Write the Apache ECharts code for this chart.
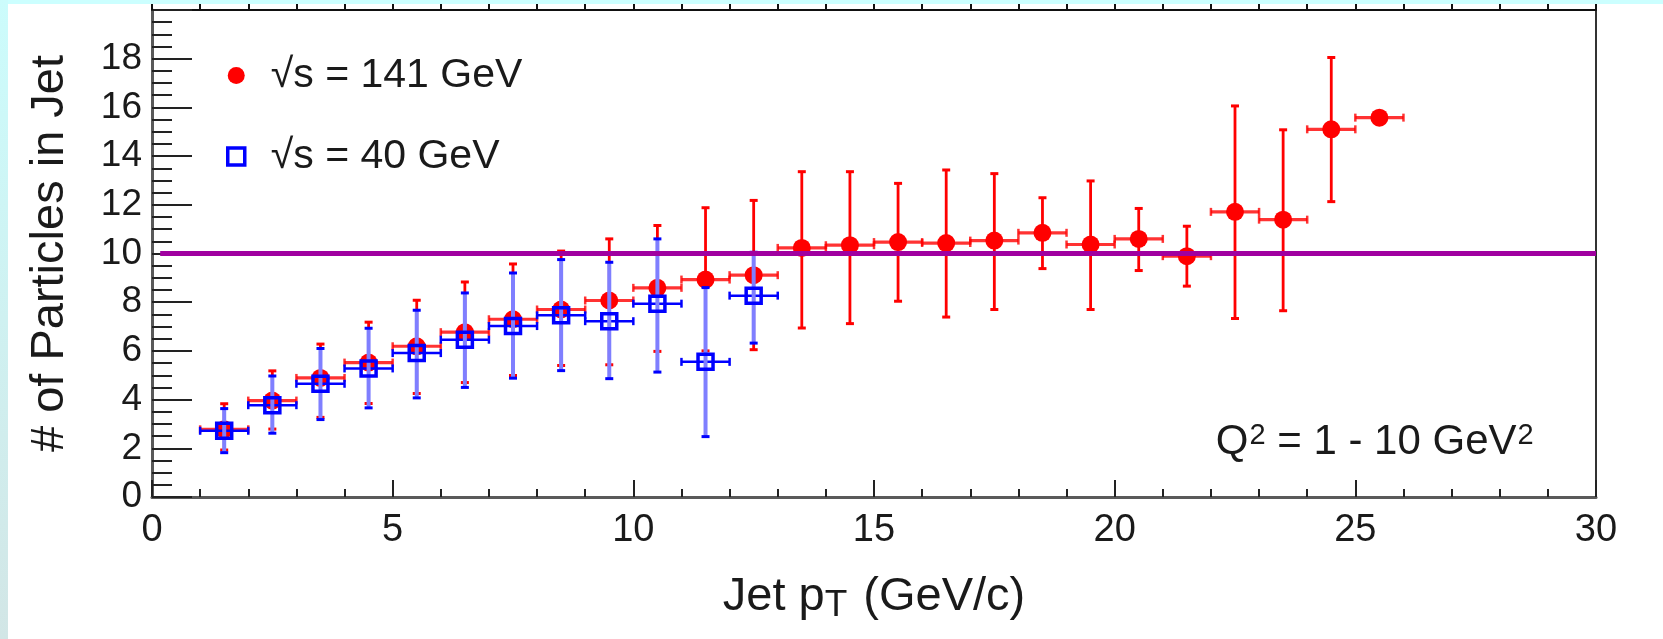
<!DOCTYPE html>
<html><head><meta charset="utf-8">
<script src="https://cdn.jsdelivr.net/npm/echarts/dist/echarts.min.js"></script>
<style>html,body{margin:0;padding:0;background:#fff;}#c{width:1663px;height:639px;}</style>
</head><body><div id="c"></div>
<script>
// ---- data ----
const redX = [1.5,2.5,3.5,4.5,5.5,6.5,7.5,8.5,9.5,10.5,11.5,12.5,13.5,14.5,15.5,16.5,17.5,18.5,19.5,20.5,21.5,22.5,23.5,24.5,25.5];
const redY = [2.78,3.96,4.89,5.52,6.19,6.77,7.30,7.70,8.07,8.59,8.93,9.11,10.23,10.34,10.47,10.43,10.53,10.85,10.37,10.60,9.89,11.71,11.39,15.10,15.58];
const redHigh = [3.83,5.18,6.28,7.18,8.08,8.83,9.57,10.10,10.60,11.15,11.88,12.18,13.36,13.36,12.88,13.43,13.28,12.29,12.98,11.85,11.12,16.06,15.08,18.05,15.58];
const redLow = [1.93,2.79,3.27,3.84,4.25,4.70,4.99,5.40,5.43,5.98,6.00,6.05,6.94,7.12,8.04,7.39,7.70,9.38,7.70,9.30,8.66,7.33,7.65,12.13,15.58];
const blueX = [1.5,2.5,3.5,4.5,5.5,6.5,7.5,8.5,9.5,10.5,11.5,12.5];
const blueY = [2.72,3.77,4.65,5.28,5.91,6.46,7.02,7.46,7.22,7.94,5.55,8.27];
const blueHigh = [3.63,4.97,6.10,6.93,7.67,8.38,9.20,9.75,9.64,10.60,8.60,10.05];
const blueLow = [1.82,2.62,3.18,3.66,4.07,4.50,4.88,5.19,4.86,5.13,2.48,6.32];
const binHalfWidth = 0.5;
const refLevel = 10;
const xTicks = [0,5,10,15,20,25,30];
const yTicks = [0,2,4,6,8,10,12,14,16,18];
const redName = '\u221As = 141 GeV';
const blueName = '\u221As = 40 GeV';

const FONT = '"Liberation Sans", Arial, Helvetica, sans-serif';
const chart = echarts.init(document.getElementById('c'), null, {renderer: 'canvas'});

function errData(xs, ys, lo, hi) {
  return xs.map((x, i) => [x, ys[i], lo[i], hi[i], binHalfWidth]);
}
function makeErr(vColor, vWidth, capColor, hColor, hWidth) {
  return function (params, api) {
    const x = api.value(0), y = api.value(1), lo = api.value(2), hi = api.value(3), hw = api.value(4);
    const pLo = api.coord([x, lo]), pHi = api.coord([x, hi]);
    const pL = api.coord([x - hw, y]), pR = api.coord([x + hw, y]);
    const cap = 4;
    const ch = [];
    const seg = (x1, y1, x2, y2, c, w) => ch.push({type: 'line', shape: {x1, y1, x2, y2}, style: {stroke: c, lineWidth: w}});
    seg(pL[0], pL[1], pR[0], pR[1], hColor, hWidth);
    seg(pL[0], pL[1] - cap, pL[0], pL[1] + cap, hColor, 2.5);
    seg(pR[0], pR[1] - cap, pR[0], pR[1] + cap, hColor, 2.5);
    if (hi > lo) {
      seg(pLo[0], pLo[1], pHi[0], pHi[1], vColor, vWidth);
      seg(pHi[0] - cap, pHi[1], pHi[0] + cap, pHi[1], capColor, 3);
      seg(pLo[0] - cap, pLo[1], pLo[0] + cap, pLo[1], capColor, 3);
    }
    return {type: 'group', children: ch};
  };
}

const strips = [
  {type: 'rect', left: 0, top: 0, shape: {width: 1663, height: 4}, style: {fill: '#ccffff'}, z: 100},
  {type: 'rect', left: 0, top: 0, shape: {width: 8, height: 639},
    style: {fill: new echarts.graphic.LinearGradient(0, 0, 0, 1, [{offset: 0, color: '#ccfcfc'}, {offset: 1, color: '#d2e6e6'}])}, z: 100}
];

const option = {
  animation: false,
  backgroundColor: '#ffffff',
  textStyle: {fontFamily: FONT},
  grid: {left: 152, right: 67, top: 10, bottom: 142, containLabel: false, outerBoundsMode: 'none'},
  legend: {
    orient: 'vertical', left: 226, top: 55, padding: 0,
    itemWidth: 17, itemHeight: 17, itemGap: 40,
    textStyle: {fontSize: 41, color: '#1a1a1a', fontFamily: FONT, lineHeight: 40, padding: [0, 0, 0, 21]},
    selectedMode: false,
    data: [
      {name: redName, icon: 'circle', itemStyle: {color: '#ff0000', borderWidth: 0}},
      {name: blueName, icon: 'rect', itemStyle: {color: 'rgba(0,0,0,0)', borderColor: '#0000ff', borderWidth: 3.5}}
    ]
  },
  xAxis: [{
    type: 'value', min: xTicks[0], max: xTicks[xTicks.length - 1], interval: xTicks[1] - xTicks[0],
    position: 'bottom',
    axisLine: {show: true, onZero: false, lineStyle: {color: '#5a5a5a', width: 3}},
    axisTick: {show: true, inside: true, length: 17, lineStyle: {color: '#222', width: 2}},
    minorTick: {show: true, splitNumber: 5, length: 8, lineStyle: {color: '#222', width: 2}},
    splitLine: {show: false},
    axisLabel: {fontSize: 38, color: '#1a1a1a', margin: 15, fontFamily: FONT},
    name: '{a|Jet p}{s|T}{a| (GeV/c)}', nameLocation: 'middle', nameGap: 70,
    nameTextStyle: {
      rich: {
        a: {fontSize: 47, fontFamily: FONT, color: '#1a1a1a', verticalAlign: 'top', lineHeight: 50},
        s: {fontSize: 37, fontFamily: FONT, color: '#1a1a1a', verticalAlign: 'bottom', lineHeight: 37, padding: [32, 3, 0, 0]}
      }
    }
  }, {
    type: 'value', min: 0, max: 30, interval: 1, position: 'top',
    axisLine: {show: true, onZero: false, lineStyle: {color: '#111', width: 2}},
    axisTick: {show: true, inside: false, length: 6, lineStyle: {color: '#111', width: 2}},
    axisLabel: {show: false}, splitLine: {show: false}
  }],
  yAxis: [{
    type: 'value', min: 0, max: 20, interval: yTicks[1] - yTicks[0],
    position: 'left',
    axisLine: {show: true, onZero: false, lineStyle: {color: '#5a5a5a', width: 3}},
    axisTick: {show: true, inside: true, length: 40, lineStyle: {color: '#222', width: 2}},
    minorTick: {show: true, splitNumber: 4, length: 20, lineStyle: {color: '#222', width: 2}},
    splitLine: {show: false},
    axisLabel: {fontSize: 37, color: '#1a1a1a', margin: 10, fontFamily: FONT,
      formatter: v => (yTicks.indexOf(v) >= 0 ? String(v) : '')},
    name: '# of Particles in Jet', nameLocation: 'middle', nameGap: 78,
    nameTextStyle: {fontSize: 47, color: '#1a1a1a', fontFamily: FONT}
  }, {
    type: 'value', min: 0, max: 20, position: 'right',
    axisLine: {show: true, onZero: false, lineStyle: {color: '#333', width: 2}},
    axisTick: {show: false}, axisLabel: {show: false}, splitLine: {show: false}
  }],
  graphic: strips,
  series: [
    {
      type: 'custom', name: 'redErr', xAxisIndex: 0, yAxisIndex: 0, z: 2,
      renderItem: makeErr('#ff0000', 2.8, '#ff0000', 'rgba(255,0,0,0.8)', 3.2),
      data: errData(redX, redY, redLow, redHigh), silent: true,
      markLine: {
        silent: true, symbol: ['none', 'none'], animation: false,
        label: {show: false},
        lineStyle: {color: '#a000a0', width: 5, type: 'solid'},
        emphasis: {disabled: true},
        data: [[{coord: [0.17, refLevel]}, {coord: [30, refLevel]}]]
      }
    },
    {
      type: 'scatter', name: redName, z: 3, symbol: 'circle', symbolSize: 18,
      itemStyle: {color: '#ff0000', opacity: 1}, silent: true,
      data: redX.map((x, i) => [x, redY[i]])
    },
    {
      type: 'custom', name: 'blueErr', z: 4,
      renderItem: makeErr('#7f7fff', 4, '#0000ff', '#0000ff', 2.5),
      data: errData(blueX, blueY, blueLow, blueHigh), silent: true
    },
    {
      type: 'scatter', name: blueName, z: 5, symbol: 'rect', symbolSize: 15,
      itemStyle: {color: 'rgba(0,0,0,0)', borderColor: '#0000ff', borderWidth: 3.5, opacity: 1}, silent: true,
      data: blueX.map((x, i) => [x, blueY[i]])
    }
  ]
};
chart.setOption(option);

// Q^2 annotation, anchored in data coordinates
const qPos = chart.convertToPixel({gridIndex: 0}, [22.1, 2.25]);
chart.setOption({
  graphic: strips.concat([{
    type: 'text', x: qPos[0], y: qPos[1], z: 50,
    style: {
      text: '{m|Q}{p|2}{m| = 1 - 10 GeV}{p|2}',
      verticalAlign: 'middle', align: 'left',
      rich: {
        m: {fontSize: 42, fontFamily: FONT, fill: '#1a1a1a', verticalAlign: 'bottom', lineHeight: 42},
        p: {fontSize: 29, fontFamily: FONT, fill: '#1a1a1a', verticalAlign: 'top', lineHeight: 29, padding: [0, 0, 24, 1]}
      }
    }
  }])
});
</script>
</body></html>
